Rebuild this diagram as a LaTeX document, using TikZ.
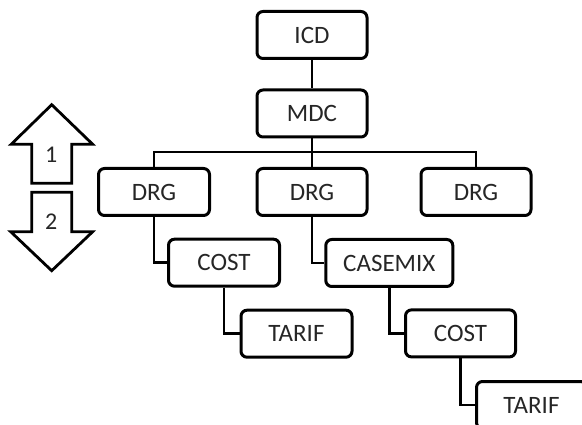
\documentclass[tikz,border=0pt]{standalone}
\usepackage{fontspec}
\setmainfont{Carlito}
\begin{document}
\begin{tikzpicture}[x=1pt,y=-1pt,
  box/.style={draw=black,line width=3pt,rounded corners=6pt,fill=white,
    minimum height=47pt,inner sep=0pt,text=black!85,font=\fontsize{25}{29}\selectfont},
  wbox/.style={box,minimum width=110pt},
  conn/.style={draw=black,line width=2.8pt},
  bigarrow/.style={draw=black,line width=2.8pt,line join=miter,fill=white},
  lbl/.style={text=black!85,font=\fontsize{24}{28}\selectfont,inner sep=0pt}]
\clip (0,0) rectangle (582,425);
\fill[white] (0,0) rectangle (582,425);
% connectors
\coordinate (bus) at (312,152);
% boxes
\node[wbox] (icd) at (312,35) {ICD};
\node[wbox] (mdc) at (312,113.5) {MDC};
\node[wbox,minimum width=111pt] (drga) at (154,192) {DRG};
\node[wbox] (drgb) at (312,192) {DRG};
\node[wbox] (drgc) at (476,192) {DRG};
\node[wbox,minimum width=111pt] (costa) at (224,262.7) {COST};
\node[box,minimum width=127pt] (casemix) at (389.3,263) {CASEMIX};
\node[wbox,minimum width=111pt] (tarifa) at (296.5,333.7) {TARIF};
\node[wbox] (costb) at (460.5,333.4) {COST};
\node[wbox] (tarifb) at (531.5,405) {TARIF};
\draw[conn] (icd.south) -- (mdc.north);
\draw[conn] (mdc.south) -- (drgb.north);
\draw[conn] (drga.north) |- (bus) -| (drgc.north);
\draw[conn] (drga.south) |- (costa.west);
\draw[conn] (drgb.south) |- (casemix.west);
\draw[conn] (costa.south) |- (tarifa.west);
\draw[conn] (casemix.south) |- (costb.west);
\draw[conn] (costb.south) |- (tarifb.west);
% side arrows
\draw[bigarrow] (51.7,104.7) -- (92.7,144.3) -- (71.7,144.3) -- (71.7,183.3)
  -- (31.7,183.3) -- (31.7,144.3) -- (11.2,144.3) -- cycle;
\draw[bigarrow] (31.7,192.3) -- (71.7,192.3) -- (71.7,231.7) -- (92.7,231.7)
  -- (51.7,270.7) -- (10.7,231.7) -- (31.7,231.7) -- cycle;
\node[lbl] (one) at (51.2,155) {1};
\node[lbl] (two) at (51.2,221.5) {2};
\end{tikzpicture}
\end{document}
